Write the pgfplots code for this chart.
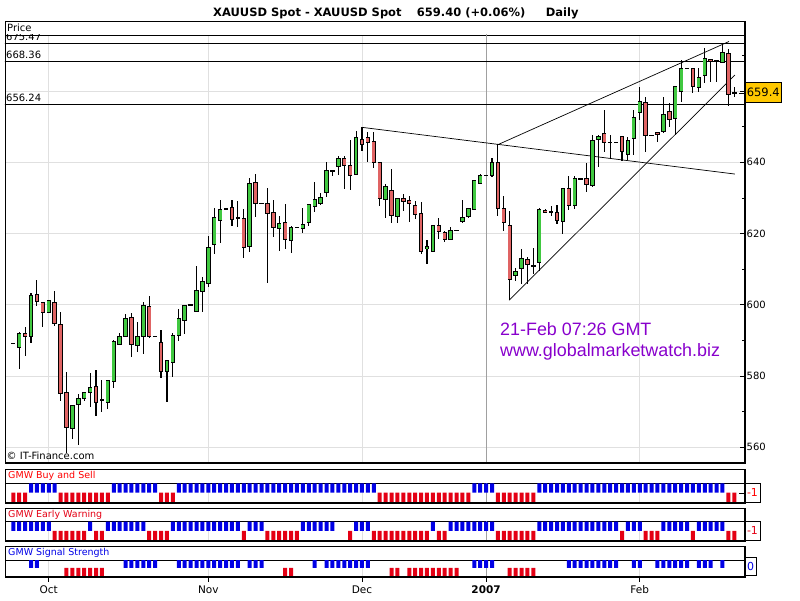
\documentclass[border=0pt]{standalone}
\usepackage{pgfplots}
\pgfplotsset{compat=1.18}
\usepackage{pgfplotstable}
\usepackage{fontspec}
\setmainfont{DejaVu Sans}
\newfontfamily\arialfont{Liberation Sans}

\definecolor{cgreen}{RGB}{64,200,64}
\definecolor{cred}{RGB}{224,100,100}
\definecolor{sigblue}{RGB}{0,0,230}
\definecolor{sigred}{RGB}{228,0,20}
\definecolor{gridgray}{RGB}{224,224,224}
\definecolor{yeargray}{RGB}{160,160,160}
\definecolor{wmpurple}{RGB}{136,0,204}
\definecolor{pricegold}{RGB}{255,200,0}

\newcommand\sm{\fontsize{10}{12}\selectfont}
\newcommand\smp{\fontsize{9.5}{11}\selectfont}

% daily candles (i = bar index) and the three GMW signals
\pgfplotstableread{
i o h l c bs ew ss
1 589.2 589.2 589.2 589.2 -1 1 0
2 588.1 592.5 581.9 592.0 -1 1 0
3 592.0 593.7 585.7 591.2 -1 1 0
4 591.1 603.2 589.4 602.7 1 1 1
5 603.0 607.0 599.8 600.9 1 1 1
6 600.7 600.9 593.9 597.8 1 1 0
7 597.8 601.4 597.6 601.2 1 1 0
8 600.7 603.9 594.1 594.8 1 -1 0
9 594.6 597.9 573.1 575.2 -1 -1 0
10 575.3 581.1 558.3 565.6 -1 -1 -1
11 565.2 572.0 562.2 571.8 -1 -1 -1
12 572.1 574.9 560.6 573.8 -1 -1 -1
13 573.8 575.6 573.0 575.4 -1 -1 -1
14 575.4 581.0 571.2 576.8 -1 1 -1
15 577.1 581.7 568.9 572.6 -1 -1 -1
16 573.3 579.0 570.0 573.3 -1 -1 -1
17 572.6 579.0 570.7 578.9 -1 1 0
18 578.4 590.0 576.7 589.8 1 1 0
19 588.9 592.2 588.8 591.1 1 1 0
20 591.1 597.4 591.0 596.2 1 1 1
21 596.5 597.6 585.4 588.9 1 1 1
22 588.6 595.1 586.8 591.2 1 1 1
23 591.2 600.7 586.1 599.9 1 1 1
24 599.4 602.5 590.6 591.2 1 -1 1
25 591.2 591.2 591.2 591.2 1 -1 1
26 589.5 592.8 579.4 581.4 -1 -1 0
27 581.4 584.6 572.6 584.4 -1 -1 0
28 583.9 592.0 579.6 591.4 -1 1 0
29 591.4 598.7 589.9 596.2 1 1 1
30 595.6 600.0 591.7 599.9 1 1 1
31 600.0 600.0 600.0 600.0 1 1 1
32 598.2 611.0 598.0 603.9 1 1 1
33 603.8 607.9 597.9 606.6 1 1 1
34 606.0 619.3 605.1 616.2 1 1 1
35 617.0 627.1 614.2 624.4 1 1 1
36 623.7 629.4 617.3 626.8 1 1 1
37 627.0 627.0 627.0 627.0 1 1 1
38 627.4 629.4 622.1 624.0 1 1 1
39 624.5 629.2 621.8 624.5 1 1 1
40 624.3 626.9 613.1 616.1 1 -1 0
41 616.5 635.5 614.9 634.1 1 1 1
42 634.4 636.7 624.7 628.5 1 1 1
43 628.5 628.5 628.5 628.5 1 1 1
44 628.5 632.7 606.0 625.7 1 -1 0
45 625.9 629.4 618.9 621.8 1 -1 0
46 621.5 624.9 615.2 622.9 1 -1 0
47 623.2 628.3 615.7 618.4 1 -1 -1
48 618.1 622.0 614.5 621.8 1 -1 -1
49 621.8 621.8 621.8 621.8 1 -1 0
50 621.5 627.1 620.3 622.6 1 1 0
51 623.2 628.4 622.1 628.2 1 1 0
52 627.5 634.4 626.0 629.7 1 1 1
53 628.5 631.3 628.0 630.1 1 1 0
54 631.6 640.1 630.4 637.6 1 1 1
55 637.6 637.6 636.2 637.6 1 1 1
56 638.9 641.8 636.4 641.1 1 0 1
57 641.1 641.8 632.5 639.2 1 0 1
58 639.2 646.3 632.2 636.4 1 -1 1
59 636.6 648.8 636.4 647.0 1 1 1
60 646.4 649.8 643.3 645.0 1 1 1
61 647.0 648.4 640.2 645.6 1 1 1
62 645.9 648.4 638.5 640.0 1 -1 0
63 640.0 640.1 627.6 629.9 -1 -1 0
64 629.6 633.8 624.5 633.2 -1 -1 0
65 632.2 638.0 623.1 625.1 -1 -1 -1
66 624.7 630.0 623.1 629.9 -1 -1 -1
67 629.7 631.0 626.4 629.0 -1 -1 0
68 629.4 630.6 623.3 628.5 -1 -1 -1
69 627.9 629.2 624.1 625.4 -1 -1 -1
70 625.7 628.9 614.3 615.1 -1 -1 -1
71 615.7 618.2 611.5 616.3 -1 -1 -1
72 615.1 622.3 615.0 622.2 -1 1 -1
73 622.2 624.3 618.4 620.7 -1 -1 -1
74 620.4 620.7 617.7 618.2 -1 -1 -1
75 618.4 621.8 618.2 620.8 -1 1 -1
76 620.9 620.9 620.9 620.9 -1 1 -1
77 623.3 629.4 623.1 624.6 -1 1 0
78 624.7 627.0 624.4 626.9 -1 1 0
79 626.8 635.0 626.6 634.8 1 1 1
80 634.1 636.7 634.0 636.4 1 1 1
81 636.4 636.4 636.4 636.4 1 1 1
82 636.3 641.1 635.8 640.0 1 1 1
83 640.0 645.0 624.9 627.1 -1 -1 0
84 627.1 630.4 620.7 623.2 -1 -1 0
85 622.2 626.3 601.4 607.0 -1 -1 -1
86 608.1 610.3 606.7 609.3 -1 -1 -1
87 610.2 615.6 605.8 613.1 -1 -1 -1
88 612.8 613.5 605.8 611.2 -1 -1 -1
89 611.0 616.0 608.6 611.0 -1 -1 -1
90 611.9 627.3 609.6 626.8 1 1 0
91 626.6 626.8 625.8 626.0 1 1 0
92 626.1 627.7 625.0 626.1 1 1 0
93 626.0 628.0 622.6 623.6 1 1 0
94 623.5 632.8 619.8 632.7 1 1 0
95 632.7 636.3 626.6 627.9 1 1 1
96 627.9 636.3 627.0 635.5 1 1 1
97 635.4 635.4 635.4 635.4 1 1 1
98 635.5 639.7 631.8 633.8 1 1 1
99 633.5 647.7 633.2 646.1 1 1 1
100 646.3 647.7 638.8 647.2 1 1 1
101 648.1 654.6 643.0 645.6 1 1 1
102 645.6 647.8 640.8 645.6 1 1 1
103 645.6 645.6 645.6 645.6 1 1 1
104 647.2 647.3 640.5 643.0 1 -1 0
105 642.2 647.2 640.7 646.1 1 1 0
106 646.7 654.7 642.0 652.6 1 1 1
107 654.0 661.2 651.9 657.0 1 1 1
108 656.8 658.4 642.8 647.5 1 -1 0
109 647.6 647.6 647.6 647.6 1 -1 0
110 648.4 648.5 645.6 647.9 1 -1 1
111 648.6 658.4 648.1 653.3 1 1 1
112 654.2 656.6 650.0 651.9 1 1 1
113 652.4 661.5 647.6 661.4 1 1 1
114 659.8 668.7 657.0 666.4 1 1 1
115 666.4 666.4 666.4 666.4 1 1 1
116 666.4 666.5 659.5 661.2 1 -1 0
117 661.0 666.4 659.8 663.8 1 1 1
118 664.5 672.0 662.2 669.2 1 1 1
119 668.9 669.0 662.4 668.4 1 1 1
120 668.5 668.6 662.6 668.5 1 1 0
121 668.0 673.2 667.8 670.9 1 1 1
122 670.6 671.7 655.8 659.1 -1 -1 0
123 659.6 661.0 658.4 659.4 -1 -1 0
}\candles

\pgfplotsset{
  panel/.style={scale only axis, width=740pt, anchor=south west,
    xmin=-0.404, xmax=124.81, ymin=-1.1, ymax=1, ytick=\empty,
    xtick={7,34,60,81,107}, xticklabels={}, xtick style={draw=none},
    xmajorgrids, major grid style={draw=gridgray, line width=0.8pt},
    axis line style={line width=0.8pt}},
  sigup/.style={ybar, bar width=4pt, bar shift=0pt, fill=sigblue, draw=none,
    restrict y to domain=0.5:2},
  sigdn/.style={ybar, bar width=4pt, bar shift=0pt, fill=sigred, draw=none,
    restrict y to domain=-2:-0.5},
}

\begin{document}
\begin{tikzpicture}
\useasboundingbox (0pt,0pt) rectangle (800pt,600pt);

% ---- price panel ----
\begin{axis}[
  at={(5pt,137pt)}, anchor=south west, scale only axis,
  width=740pt, height=428pt,
  xmin=-0.404, xmax=124.81, ymin=555.6, ymax=675.73,
  xtick={7,34,60,81,107}, xticklabels={}, xtick style={draw=none},
  xmajorgrids, ymajorgrids,
  major grid style={draw=gridgray, line width=0.8pt},
  ytick={560,580,600,620,640,660}, yticklabels={560,580,600,620,640,{}},
  minor ytick={570,590,610,630,650,670},
  ytick pos=right, yticklabel pos=right, tick align=inside,
  major tick length=5pt, minor tick length=3pt,
  ytick style={draw=black, line width=0.8pt},
  yticklabel style={font=\sm, inner sep=1.5pt},
  axis line style={line width=0.8pt},
  /pgf/number format/assume math mode=true,
]
\addplot[yeargray, line width=0.8pt] coordinates {(81,550) (81,680)};
\addplot[black, line width=0.9pt] coordinates {(-1,673.4) (126,673.4)};
\addplot[black, line width=0.9pt] coordinates {(-1,668.36) (126,668.36)};
\addplot[black, line width=0.9pt] coordinates {(-1,656.24) (126,656.24)};
% trend lines
\addplot[black, line width=0.7pt] coordinates {(60.05,649.8) (123.1,636.7)};
\addplot[black, line width=0.7pt] coordinates {(83.06,645.0) (122.1,673.9)};
\addplot[black, line width=0.7pt] coordinates {(84.9,601.3) (123.1,664.5)};
% wicks
\addplot[draw=none, error bars/.cd, y dir=both, y explicit, error mark=none,
  error bar style={draw=black, solid, line width=1.1pt}]
  table[x=i, y expr={(\thisrow{h}+\thisrow{l})/2},
        y error plus expr={(\thisrow{h}-\thisrow{l})/2},
        y error minus expr={(\thisrow{h}-\thisrow{l})/2}] {\candles};
% body outlines
\addplot[draw=none, error bars/.cd, y dir=both, y explicit, error mark=none,
  error bar style={draw=black, solid, line width=4.4pt}]
  table[x=i, y expr={(\thisrow{o}+\thisrow{c})/2},
        y error plus expr={abs(\thisrow{c}-\thisrow{o})/2+0.14},
        y error minus expr={abs(\thisrow{c}-\thisrow{o})/2+0.14}] {\candles};
% rising bodies
\addplot[draw=none, error bars/.cd, y dir=both, y explicit, error mark=none,
  error bar style={draw=cgreen, solid, line width=2.8pt}]
  table[x=i, y expr={(\thisrow{o}+\thisrow{c})/2},
        y error plus expr={max((\thisrow{c}-\thisrow{o})/2-0.14,0)},
        y error minus expr={max((\thisrow{c}-\thisrow{o})/2-0.14,0)}] {\candles};
% falling bodies
\addplot[draw=none, error bars/.cd, y dir=both, y explicit, error mark=none,
  error bar style={draw=cred, solid, line width=2.8pt}]
  table[x=i, y expr={(\thisrow{o}+\thisrow{c})/2},
        y error plus expr={max((\thisrow{o}-\thisrow{c})/2-0.14,0)},
        y error minus expr={max((\thisrow{o}-\thisrow{c})/2-0.14,0)}] {\candles};
\node[anchor=south west, inner sep=0pt, font=\sm, yshift=2.5pt] at (axis cs:-0.24,673.4) {675.47};
\node[anchor=south west, inner sep=0pt, font=\sm, yshift=2.5pt] at (axis cs:-0.24,668.36) {668.36};
\node[anchor=south west, inner sep=0pt, font=\sm, yshift=2.5pt] at (axis cs:-0.24,656.24) {656.24};
\end{axis}

% ---- GMW Buy and Sell ----
\begin{axis}[panel, at={(5pt,97.3pt)}, height=19.4pt]
\addplot[yeargray, line width=0.8pt] coordinates {(81,-2) (81,2)};
\addplot[sigup] table[x=i, y=bs] {\candles};
\addplot[sigdn] table[x=i, y=bs] {\candles};
\end{axis}

% ---- GMW Early Warning ----
\begin{axis}[panel, at={(5pt,59.3pt)}, height=19pt]
\addplot[yeargray, line width=0.8pt] coordinates {(81,-2) (81,2)};
\addplot[sigup] table[x=i, y=ew] {\candles};
\addplot[sigdn] table[x=i, y=ew] {\candles};
\end{axis}

% ---- GMW Signal Strength ----
\begin{axis}[panel, at={(5pt,23.3pt)}, height=16.7pt,
  xticklabels={Oct,Nov,Dec,\textbf{2007},Feb},
  xtick style={draw=black, line width=0.8pt}, tick align=outside,
  major tick length=5pt, xtick pos=left,
  xticklabel style={font=\fontsize{10.5}{12}\selectfont, inner sep=1pt, yshift=-3pt}]
\addplot[yeargray, line width=0.8pt] coordinates {(81,-2) (81,2)};
\addplot[sigup] table[x=i, y=ss] {\candles};
\addplot[sigdn] table[x=i, y=ss] {\candles};
\end{axis}

\begin{scope}[x=1pt, y=1pt]
% frames, header strips and heavier right/bottom edges
\draw[line width=0.8pt] (5,565) -- (5,579) -- (745,579) -- (745,565);
\node[anchor=west, font=\sm, inner sep=1pt] at (6,572) {Price};
\foreach \top/\sep/\bot in {130.7/116.7/97.3, 91.7/78.3/59.3, 54/40/23.3} {
  \draw[line width=0.8pt] (5,\sep) -- (5,\top) -- (745,\top) -- (745,\sep);
  \draw[line width=1.8pt] (5,\bot) -- (744.6,\bot) -- (744.6,\top);
}
\draw[line width=1.8pt] (5,137) -- (744.6,137) -- (744.6,579);
\node[anchor=west, font=\smp, text=red, inner sep=1pt] at (7,123.7) {GMW Buy and Sell};
\node[anchor=west, font=\smp, text=sigred, inner sep=1pt] at (7,85) {GMW Early Warning};
\node[anchor=west, font=\smp, text=sigblue, inner sep=1pt] at (7,47) {GMW Signal Strength};

% last-value boxes on the right
\draw[line width=0.8pt] (739,506.8) -- (745,506.8);
\draw[fill=pricegold, line width=0.8pt] (745.7,497.3) rectangle (781,517.3);
\node[font=\fontsize{11.5}{13}\selectfont] at (763.3,507.3) {659.4};
\draw[line width=0.8pt] (739,106.7) -- (745,106.7);
\draw[fill=white, line width=0.8pt] (745,97.7) rectangle (760,116.7);
\node[font=\fontsize{11}{13}\selectfont, text=red] at (752.5,107.2) {-1};
\draw[fill=white, line width=0.8pt] (745,60) rectangle (760,78.3);
\node[font=\fontsize{11}{13}\selectfont, text=sigred] at (752.5,69.2) {-1};
\draw[fill=white, line width=0.8pt] (745,25) rectangle (756,42.7);
\node[font=\fontsize{11}{13}\selectfont, text=sigblue] at (750.5,33.8) {0};

% texts
\node[anchor=base west, inner sep=0pt, font=\sm] at (6.5,140.7) {© IT-Finance.com};
\node[anchor=base west, inner sep=0pt, font=\arialfont\fontsize{17.9}{20}\selectfont, text=wmpurple] at (500,264.3) {21-Feb 07:26 GMT};
\node[anchor=base west, inner sep=0pt, font=\arialfont\fontsize{17.9}{20}\selectfont, text=wmpurple] at (500,243.3) {www.globalmarketwatch.biz};
\node[anchor=base west, inner sep=0pt, font=\bfseries\fontsize{11.5}{13}\selectfont] at (213,583.3) {XAUUSD Spot - XAUUSD Spot};
\node[anchor=base west, inner sep=0pt, font=\bfseries\fontsize{11.5}{13}\selectfont] at (416.7,583.3) {659.40 (+0.06\%)};
\node[anchor=base west, inner sep=0pt, font=\bfseries\fontsize{11.5}{13}\selectfont] at (545.7,583.3) {Daily};
\end{scope}
\end{tikzpicture}
\end{document}
